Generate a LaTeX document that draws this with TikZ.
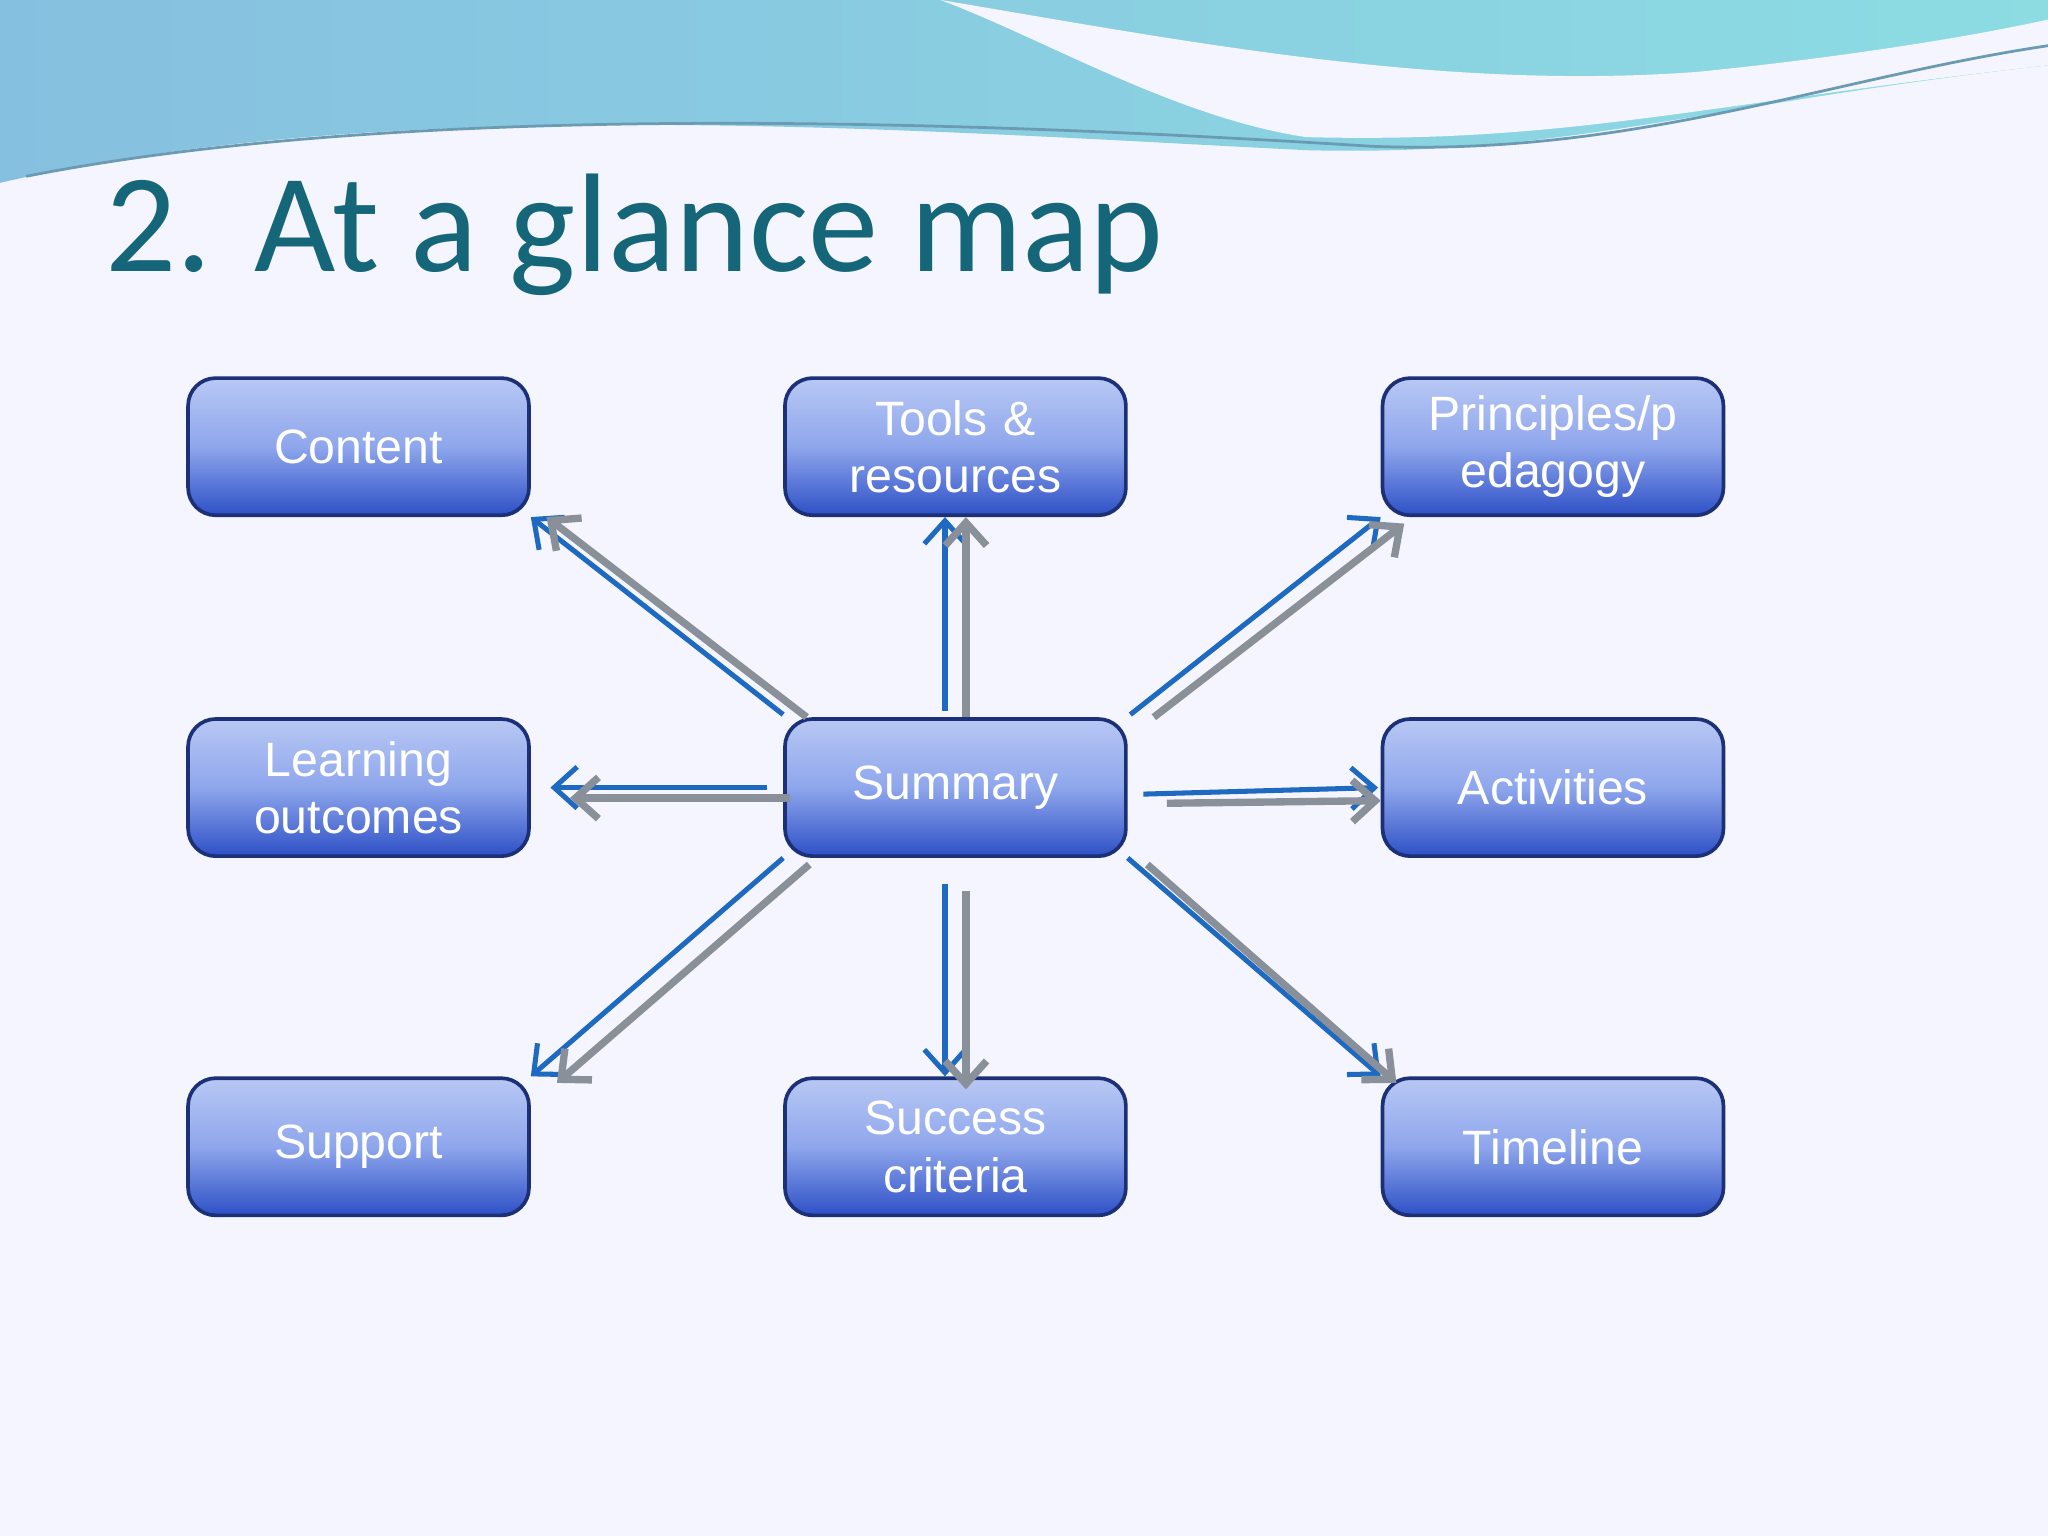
\documentclass[tikz,border=0pt]{standalone}
\usepackage{fontspec}
\setmainfont{Liberation Sans}
\newfontfamily\titlefont{Carlito}
\usetikzlibrary{arrows.meta}
\definecolor{titlec}{HTML}{16667A}
\definecolor{arrblue}{HTML}{1E6AC0}
\definecolor{arrgray}{HTML}{8A9099}
\definecolor{boxtop}{HTML}{B8C8F4}
\definecolor{boxmid}{HTML}{8EA6EC}
\definecolor{boxbot}{HTML}{2E50C6}
\definecolor{hdrl}{HTML}{86C0E0}
\definecolor{hdrr}{HTML}{8CDCE2}
\tikzset{
 box/.style={draw=boxbot!60!black, line width=0.8pt, rounded corners=6pt, minimum width=2.61cm, minimum height=1.05cm,
   inner sep=0.05cm, top color=boxtop, bottom color=boxbot, middle color=boxmid,
   text=white, font=\fontsize{10.5}{12.5}\selectfont, align=center, text width=2.45cm},
 ba/.style={draw=arrblue, line width=1.1pt, -{Straight Barb[length=5pt,width=9pt]}},
 ga/.style={draw=arrgray, line width=1.6pt, -{Straight Barb[length=5pt,width=9pt]}}
}
\begin{document}
\begin{tikzpicture}[x=1cm,y=-1cm]
\fill[white!96!blue] (0,0) rectangle (15.68,11.76);
\useasboundingbox (0,0) rectangle (15.68,11.76);
\shade[left color=hdrl, right color=hdrr]
 (0,0) -- (15.68,0) -- (15.68,0.5) .. controls (13,0.8) and (12,1.2) .. (10,1.15)
 .. controls (7,1.0) and (3,0.7) .. (0,1.4) -- cycle;
\fill[white!96!blue] (7.2,0) .. controls (9,0.3) and (11,0.7) .. (13,0.55) .. controls (14,0.45) and (15,0.3) .. (15.68,0.15) -- (15.68,0.5) .. controls (13,0.8) and (12,1.1) .. (10,1.05) .. controls (9,0.9) and (8,0.3) .. (7.2,0) -- cycle;
\draw[hdrl!80!black, line width=0.6pt] (0.2,1.35) .. controls (3,0.8) and (7,0.9) .. (10.5,1.12) .. controls (12.5,1.2) and (14,0.6) .. (15.68,0.35);
\node[font=\titlefont\fontsize{30.6}{32}\selectfont, text=titlec, anchor=west, inner sep=0pt] (title) at (0.8,1.8) {2. At a glance map};
\node[box] (content) at (2.745,3.42) {Content};
\node[box] (tools) at (7.315,3.42) {Tools \&\\resources};
\node[box] (princ) at (11.89,3.42) {Principles/p\\edagogy};
\node[box] (learn) at (2.745,6.03) {Learning\\outcomes};
\node[box] (summ) at (7.315,6.03) {Summary};
\node[box] (act) at (11.89,6.03) {Activities};
\node[box] (supp) at (2.745,8.78) {Support};
\node[box] (succ) at (7.315,8.78) {Success\\criteria};
\node[box] (time) at (11.89,8.78) {Timeline};
\draw[ba] ([shift={(0,-0.02)}]summ.north west) -- (content.south east);
\draw[ga] ([shift={(0.18,0)}]summ.north west) -- ([shift={(0.12,0)}]content.south east);
\draw[ba] ([shift={(-0.08,-0.05)}]summ.north) -- ([shift={(-0.08,0)}]tools.south);
\draw[ga] ([shift={(0.08,0)}]summ.north) -- ([shift={(0.08,0)}]tools.south);
\draw[ba] ([shift={(0.02,-0.02)}]summ.north east) -- (princ.south west);
\draw[ga] ([shift={(0.2,0)}]summ.north east) -- ([shift={(0.18,0.05)}]princ.south west);
\draw[ba] ([shift={(-0.12,0)}]summ.west) -- ([shift={(0.15,0)}]learn.east);
\draw[ga] ([shift={(0.05,0.08)}]summ.west) -- ([shift={(0.3,0.08)}]learn.east);
\draw[ba] ([shift={(0.12,0.05)}]summ.east) -- ([shift={(-0.02,0)}]act.west);
\draw[ga] ([shift={(0.3,0.12)}]summ.east) -- ([shift={(0,0.1)}]act.west);
\draw[ba] (summ.south west) -- (supp.north east);
\draw[ga] ([shift={(0.2,0.05)}]summ.south west) -- ([shift={(0.2,0.05)}]supp.north east);
\draw[ba] ([shift={(-0.08,0.2)}]summ.south) -- ([shift={(-0.08,0)}]succ.north);
\draw[ga] ([shift={(0.08,0.25)}]summ.south) -- ([shift={(0.08,0.1)}]succ.north);
\draw[ba] (summ.south east) -- (time.north west);
\draw[ga] ([shift={(0.15,0.05)}]summ.south east) -- ([shift={(0.12,0.05)}]time.north west);
\end{tikzpicture}
\end{document}
